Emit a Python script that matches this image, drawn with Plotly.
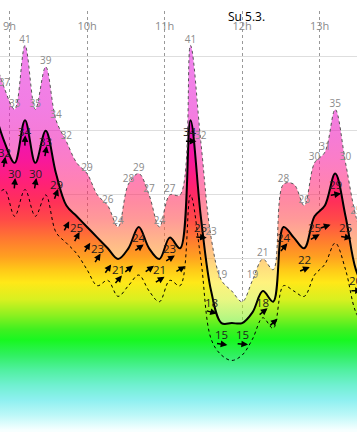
import math
import plotly.graph_objects as go

# ---------------- data ----------------
times = ["8:48", "8:56", "9:04", "9:12", "9:20", "9:28", "9:36", "9:44", "9:52",
         "10:00", "10:08", "10:16", "10:24", "10:32", "10:40", "10:48", "10:56",
         "11:04", "11:12", "11:20", "11:28", "11:36", "11:44", "11:52", "12:00",
         "12:08", "12:16", "12:24", "12:32", "12:40", "12:48", "12:56", "13:04",
         "13:12", "13:20", "13:28", "13:36"]

wind = [35, 32, 30, 34, 30, 33, 29, 26, 25, 24, 23, 22, 21, 22, 24, 22, 21,
        23, 22, 34, 25, 18, 15, 15, 15, 16, 18, 17, 24, 23, 22, 25, 26,
        29, 25, 20, 18]

gust = [40, 37, 35, 41, 35, 39, 34, 32, 30, 29, 27, 26, 24, 28, 29, 27, 24,
        27, 27, 41, 32, 23, 19, 18, 17, 19, 21, 20, 28, 28, 26, 30, 31,
        35, 30, 25, 22]

wind_low = [26.5, 27.5, 25, 27.5, 25, 27, 23.5, 22.5, 21.5, 20, 18.5, 19, 17.5,
            18.5, 19.5, 18, 17, 19, 18.5, 27, 21, 13.5, 12, 11.5, 12, 13.5,
            15.5, 14.5, 18.5, 18, 17.5, 19.5, 20.5, 22.5, 20, 16, 14.5]

# meteorological direction (degrees, wind coming from)
wind_dir = [185, 190, 185, 182, 190, 190, 200, 208, 208, 212, 212, 215, 220,
            230, 235, 235, 238, 238, 240, 270, 275, 285, 278, 275, 275, 260,
            232, 228, 220, 240, 248, 240, 252, 260, 280, 270, 270]

show_gust_label = [0, 1, 1, 1, 1, 1, 1, 1, 0, 1, 0, 1, 1, 1, 1, 1, 1,
                   1, 0, 1, 1, 1, 1, 0, 0, 1, 1, 0, 1, 0, 1, 1, 1,
                   1, 1, 1, 0]
show_wind_label = [0, 1, 1, 1, 1, 1, 1, 0, 1, 0, 1, 0, 1, 0, 1, 0, 1,
                   1, 0, 1, 1, 1, 1, 0, 1, 0, 1, 0, 1, 0, 1, 1, 0,
                   1, 1, 1, 0]
show_arrow = [0, 1, 1, 1, 1, 1, 1, 1, 1, 1, 1, 1, 1, 1, 1, 1, 1,
              1, 1, 1, 1, 1, 1, 0, 1, 0, 1, 1, 1, 0, 1, 1, 1,
              1, 1, 1, 0]

tick_vals = [9, 10, 11, 12, 13]
tick_text = ["9h", "10h", "11h", "12h", "13h"]
grid_knots = [21, 27, 33, 40]
day_label = "Su 5.3."

# colour ramp by wind speed (knots)
color_stops = [(4.0, "#ffffff"), (5.0, "#f6ffff"), (6.4, "#bcf8f8"), (7.8, "#8ef0f0"),
               (9.2, "#70f0d0"), (10.6, "#50f0a0"), (12.0, "#30f060"), (13.4, "#18f820"),
               (14.4, "#40f020"), (15.8, "#90f020"), (17.2, "#d8f020"), (18.8, "#ffe818"),
               (20.0, "#ffc818"), (21.2, "#ffa020"), (22.8, "#ff7a30"), (24.7, "#ff4a48"),
               (26.3, "#ff3058"), (28.2, "#ff2078"), (30.2, "#f8189a"), (32.3, "#ee14b4"),
               (35.0, "#e818cc"), (40.0, "#e420dc"), (45.0, "#d838e8")]

# ---------------- helpers ----------------
def to_hours(t):
    h, m = t.split(":")
    return int(h) + int(m) / 60.0

x = [to_hours(t) for t in times]
n = len(times)
assert all(len(a) == n for a in [wind, gust, wind_low, wind_dir, show_gust_label,
                                 show_wind_label, show_arrow])

v_lo, v_hi = color_stops[0][0], color_stops[-1][0]
full_cs = [[(v - v_lo) / (v_hi - v_lo), c] for v, c in color_stops]


def rgba(hexc, a):
    hexc = hexc.lstrip("#")
    r, g, b = int(hexc[0:2], 16), int(hexc[2:4], 16), int(hexc[4:6], 16)
    return f"rgba({r},{g},{b},{a})"


light_cs = [[p, rgba(c, 0.56)] for p, c in full_cs]

FONT = "Open Sans"

fig = go.Figure()

fig.add_trace(go.Scatter(
    x=x, y=wind, mode="lines",
    line=dict(color="black", width=2, shape="spline"),
    fill="tozeroy",
    fillgradient=dict(type="vertical", colorscale=full_cs, start=v_lo, stop=v_hi),
    hoverinfo="skip"))

fig.add_trace(go.Scatter(
    x=x, y=gust, mode="lines",
    line=dict(color="#555555", width=1, dash="dot", shape="spline"),
    fill="tonexty",
    fillgradient=dict(type="vertical", colorscale=light_cs, start=v_lo, stop=v_hi),
    hoverinfo="skip"))

fig.add_trace(go.Scatter(
    x=x, y=wind_low, mode="lines",
    line=dict(color="black", width=1, dash="dot", shape="spline"),
    hoverinfo="skip"))

gi = [k for k in range(n) if show_gust_label[k]]
fig.add_trace(go.Scatter(
    x=[x[k] for k in gi], y=[gust[k] for k in gi], mode="text",
    text=[str(gust[k]) for k in gi], textposition="top center",
    textfont=dict(family=FONT, size=10, color="#8a8a8a"),
    hoverinfo="skip"))

annotations = []

# wind speed labels, just below the line
for k in range(n):
    if show_wind_label[k]:
        annotations.append(dict(
            x=x[k], y=wind[k], xref="x", yref="y", text=str(wind[k]),
            showarrow=False, xanchor="center", yanchor="middle", yshift=-11,
            font=dict(family=FONT, size=11.5, color="#1e1e1e")))

# direction arrows below the labels
L = 12.0
OFF = 21.0
for k in range(n):
    if not show_arrow[k]:
        continue
    th = math.radians(270 - wind_dir[k])
    c, s = math.cos(th), math.sin(th)
    annotations.append(dict(
        x=x[k], y=wind[k], xref="x", yref="y", text="",
        showarrow=True, arrowhead=2, arrowsize=0.9, arrowwidth=1.5,
        arrowcolor="black",
        ax=-L * c, ay=L * s, axref="pixel", ayref="pixel",
        xshift=(L / 2) * c, yshift=-OFF + (L / 2) * s,
        font=dict(size=1)))

annotations.append(dict(
    x=12, xref="x", y=1, yref="paper", yanchor="middle", xanchor="center",
    xshift=4, yshift=-5, text=day_label, showarrow=False,
    font=dict(family=FONT, size=12, color="black")))

fig.update_layout(
    width=357, height=432,
    margin=dict(l=0, r=0, t=11, b=0, pad=0, autoexpand=False),
    paper_bgcolor="white", plot_bgcolor="white",
    showlegend=False,
    annotations=annotations,
    xaxis=dict(range=[8.8775, 13.481], tickvals=tick_vals, ticktext=tick_text,
               side="top", ticklabelposition="inside", ticks="",
               ticklabelstandoff=8, automargin=False,
               showgrid=True, gridcolor="#999999", griddash="dot", gridwidth=1,
               zeroline=False, showline=False,
               tickfont=dict(family=FONT, size=11, color="#8a8a8a")),
    yaxis=dict(range=[4.80, 44.22], tickvals=grid_knots, showticklabels=False,
               ticks="", showgrid=True, gridcolor="#dedede", gridwidth=1,
               zeroline=False, showline=False, automargin=False),
)

fig.write_html("out.html",
               config={"displayModeBar": False},
               post_script="document.body.style.margin='0';document.body.style.padding='0';")
